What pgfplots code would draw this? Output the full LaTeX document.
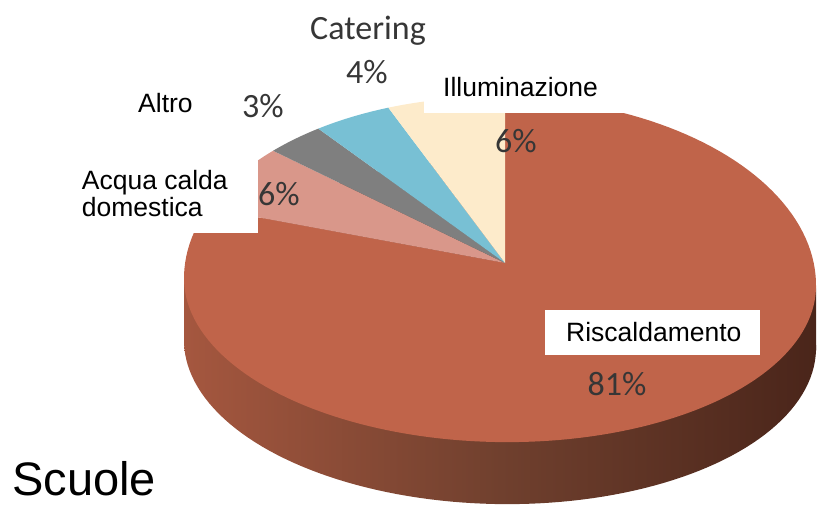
\documentclass[border=0pt]{standalone}
\usepackage{pgfplots}
\usepackage{pgfplotstable}
\pgfplotsset{compat=1.18}
\usepackage{fontspec}
\setmainfont{Liberation Sans}
\newfontfamily\calibri{Carlito}

\definecolor{cR}{HTML}{C0644A}
\definecolor{cA}{HTML}{D9978A}
\definecolor{cG}{HTML}{7F7F7F}
\definecolor{cC}{HTML}{78C0D4}
\definecolor{cI}{HTML}{FDEBCB}
\definecolor{sideL}{HTML}{A5573F}
\definecolor{sideM}{HTML}{70402E}
\definecolor{sideR}{HTML}{4A251A}
\definecolor{lbl}{HTML}{363636}

\pgfplotstableread{
label share
Riscaldamento 81
Acqua 6
Altro 3
Catering 4
Illuminazione 6
}\piedata
\pgfplotstablegetelem{0}{share}\of\piedata \pgfmathsetmacro\aA{3.6*\pgfplotsretval}
\pgfplotstablegetelem{1}{share}\of\piedata \pgfmathsetmacro\aB{\aA+3.6*\pgfplotsretval}
\pgfplotstablegetelem{2}{share}\of\piedata \pgfmathsetmacro\aC{\aB+3.6*\pgfplotsretval}
\pgfplotstablegetelem{3}{share}\of\piedata \pgfmathsetmacro\aD{\aC+3.6*\pgfplotsretval}
\pgfplotstablegetelem{4}{share}\of\piedata \pgfmathsetmacro\aE{\aD+3.6*\pgfplotsretval}

\begin{document}
\begin{tikzpicture}
\begin{axis}[
  width=818pt, height=506pt, scale only axis,
  xmin=0, xmax=818, ymin=0, ymax=506, y dir=reverse,
  hide axis, clip=false,
  declare function={px(\t)=500+316*sin(\t)+5*cos(\t);
    py(\t)=282-ifthenelse(cos(\t)>0,185,160)*cos(\t)+6.32*sin(\t);},
]
\addplot[draw=none] coordinates {(0,0) (818,506)};
% side of the cylinder
\addplot[draw=none, left color=sideL, right color=sideR, middle color=sideM,
  domain=0:360, samples=181, variable=\t] ({px(\t)},{py(\t)+62}) -- cycle;
\addplot[draw=none, left color=sideL, right color=sideR, middle color=sideM]
  coordinates {(184,275.68) (816,288.32) (816,350.32) (184,337.68)} -- cycle;
% top face slices
\addplot[fill=cR, draw=none, domain=0:\aA, samples=150, variable=\t]
  ({px(\t)},{py(\t)}) -- (axis cs:505,263) -- cycle;
\addplot[fill=cA, draw=none, domain=\aA:\aB, samples=20, variable=\t]
  ({px(\t)},{py(\t)}) -- (axis cs:505,263) -- cycle;
\addplot[fill=cG, draw=none, domain=\aB:\aC, samples=15, variable=\t]
  ({px(\t)},{py(\t)}) -- (axis cs:505,263) -- cycle;
\addplot[fill=cC, draw=none, domain=\aC:\aD, samples=15, variable=\t]
  ({px(\t)},{py(\t)}) -- (axis cs:505,263) -- cycle;
\addplot[fill=cI, draw=none, domain=\aD:\aE, samples=20, variable=\t]
  ({px(\t)},{py(\t)}) -- (axis cs:505,263) -- cycle;

% white label boxes
\fill[white] (axis cs:424,68) rectangle (axis cs:637,112.7);
\fill[white] (axis cs:545,310) rectangle (axis cs:760,355);
\fill[white] (axis cs:72,154) rectangle (axis cs:258,233);

% percentage labels (Calibri-like)
\begin{scope}[every node/.style={inner sep=0pt, anchor=base, text=lbl,
    font=\calibri\fontsize{34}{40}\selectfont}]
\node at (axis cs:368,39) {Catering};
\node at (axis cs:367,83) {4\%};
\node at (axis cs:263,117) {3\%};
\node at (axis cs:516,152) {6\%};
\node at (axis cs:617,395) {81\%};
\end{scope}
% the partly covered 6%
\begin{scope}
\clip (axis cs:258,150) rectangle (axis cs:330,215);
\node[inner sep=0pt, anchor=base, text=lbl, font=\calibri\fontsize{34}{40}\selectfont]
  at (axis cs:279,205) {6\%};
\end{scope}

% category labels (Arial-like)
\begin{scope}[every node/.style={inner sep=0pt, anchor=base west, text=black,
    font=\fontsize{26.5}{30}\selectfont}]
\node at (axis cs:443,96.7) {Illuminazione};
\node at (axis cs:566,341) {Riscaldamento};
\node at (axis cs:81.7,189) {Acqua calda};
\node at (axis cs:81.7,216) {domestica};
\node at (axis cs:138,112) {Altro};
\end{scope}
\node[inner sep=0pt, anchor=base west, font=\fontsize{47}{52}\selectfont]
  at (axis cs:12,495) {Scuole};
\end{axis}
\end{tikzpicture}
\end{document}
